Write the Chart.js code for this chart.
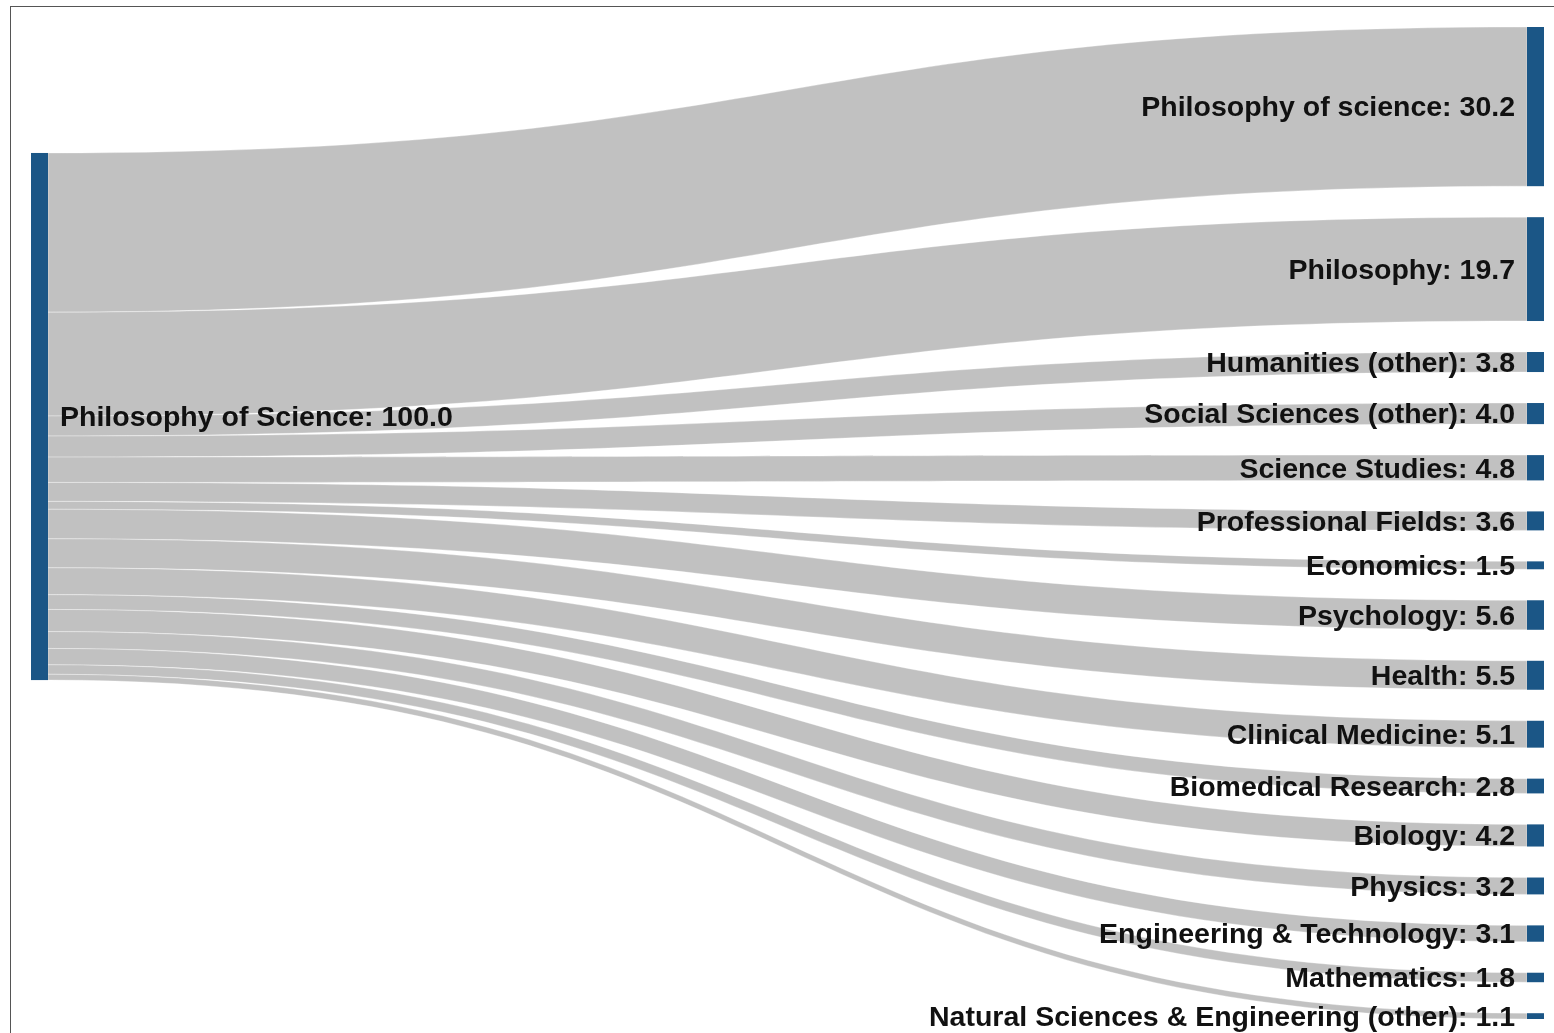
<!DOCTYPE html>
<html>
<head>
<meta charset="utf-8">
<script src="https://cdn.jsdelivr.net/npm/chart.js@4.4.1/dist/chart.umd.min.js"></script>
<style>
  html, body { margin: 0; padding: 0; background: #fff; overflow: hidden; }
  #wrap { width: 1554px; height: 1033px; position: relative; }
</style>
</head>
<body>
<div id="wrap"><canvas id="chart"></canvas></div>
<script>
// sankey data: one source, many targets
var sourceLabel = 'Philosophy of Science';
var targetLabels = [
  'Philosophy of science', 'Philosophy', 'Humanities (other)', 'Social Sciences (other)',
  'Science Studies', 'Professional Fields', 'Economics', 'Psychology', 'Health',
  'Clinical Medicine', 'Biomedical Research', 'Biology', 'Physics',
  'Engineering & Technology', 'Mathematics', 'Natural Sciences & Engineering (other)'
];
var flowValues = [30.2, 19.7, 3.8, 4.0, 4.8, 3.6, 1.5, 5.6, 5.5, 5.1, 2.8, 4.2, 3.2, 3.1, 1.8, 1.1];

// layout (in y-scale units)
var nodeGap = 5.88;
var sourceOffset = 23.9;
var nodeWidth = 17;

var total = flowValues.reduce(function (a, b) { return a + b; }, 0);
var yMax = total + nodeGap * (flowValues.length - 1);

var nodeColor = '#1b5686';
var linkColor = '#c1c1c1';
var fontSpec = 'bold 28.5px "Liberation Sans", Arial, sans-serif';

var sankeyPlugin = {
  id: 'sankey',
  beforeDatasetsDraw: function (chart) {
    var ctx = chart.ctx;
    var xs = chart.scales.x, ys = chart.scales.y;
    var srcX0 = xs.getPixelForValue(0);
    var srcX1 = srcX0 + nodeWidth;
    var tgtX1 = xs.getPixelForValue(1);
    var tgtX0 = tgtX1 - nodeWidth;
    var midX = (srcX1 + tgtX0) / 2;

    ctx.save();
    // frame
    ctx.strokeStyle = '#555';
    ctx.lineWidth = 1;
    ctx.strokeRect(10.5, 6.5, 3000, 3000);

    // links
    var sCum = sourceOffset, tCum = 0;
    var targets = [];
    for (var i = 0; i < flowValues.length; i++) {
      var v = flowValues[i];
      var sy0 = ys.getPixelForValue(sCum), sy1 = ys.getPixelForValue(sCum + v);
      var ty0 = ys.getPixelForValue(tCum), ty1 = ys.getPixelForValue(tCum + v);
      targets.push([ty0, ty1]);
      ctx.beginPath();
      ctx.moveTo(srcX1, sy0);
      ctx.bezierCurveTo(midX, sy0, midX, ty0, tgtX0, ty0);
      ctx.lineTo(tgtX0, ty1);
      ctx.bezierCurveTo(midX, ty1, midX, sy1, srcX1, sy1);
      ctx.closePath();
      ctx.fillStyle = linkColor;
      ctx.fill();
      ctx.strokeStyle = 'rgba(255,255,255,0.55)';
      ctx.lineWidth = 0.6;
      ctx.stroke();
      sCum += v;
      tCum += v + nodeGap;
    }

    // nodes
    ctx.fillStyle = nodeColor;
    var srcTop = ys.getPixelForValue(sourceOffset);
    var srcBot = ys.getPixelForValue(sourceOffset + total);
    ctx.fillRect(srcX0, srcTop, nodeWidth, srcBot - srcTop);
    targets.forEach(function (t) {
      ctx.fillRect(tgtX0, t[0], nodeWidth, t[1] - t[0]);
    });

    // labels
    ctx.font = fontSpec;
    ctx.fillStyle = '#111';
    ctx.textBaseline = 'middle';
    ctx.textAlign = 'left';
    ctx.fillText(sourceLabel + ': ' + total.toFixed(1), srcX1 + 12, (srcTop + srcBot) / 2 + 2);
    ctx.textAlign = 'right';
    targets.forEach(function (t, i) {
      ctx.fillText(targetLabels[i] + ': ' + flowValues[i].toFixed(1), tgtX0 - 12, (t[0] + t[1]) / 2 + 2);
    });
    ctx.restore();
  }
};

new Chart(document.getElementById('chart'), {
  type: 'scatter',
  data: { datasets: [{ data: [] }] },
  options: {
    responsive: true,
    maintainAspectRatio: false,
    animation: false,
    layout: { padding: { left: 31, right: 10, top: 27, bottom: 14 } },
    plugins: { legend: { display: false }, tooltip: { enabled: false } },
    scales: {
      x: { type: 'linear', min: 0, max: 1, display: false },
      y: { type: 'linear', min: 0, max: yMax, reverse: true, display: false }
    }
  },
  plugins: [sankeyPlugin]
});
</script>
</body>
</html>
